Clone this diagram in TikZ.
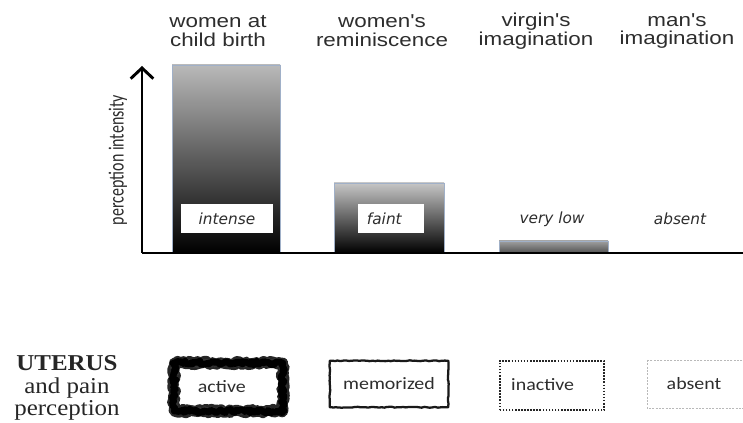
\documentclass[tikz,border=0pt]{standalone}
\usepackage{fontspec}
\setmainfont{Liberation Serif}
\newfontfamily\titlefont[FakeStretch=1.2]{Liberation Sans}
\newfontfamily\tagfont{DejaVu Sans}
\newfontfamily\boxfont[FakeStretch=1.15]{Carlito}
\newfontfamily\axisfont{Carlito}
\newfontfamily\uterfont[FakeStretch=1.1]{Liberation Serif}
\usetikzlibrary{arrows.meta,decorations.pathmorphing}

\definecolor{bordo}{RGB}{160,176,200}
\definecolor{testo}{RGB}{45,45,45}

\tikzset{
  toplabel/.style={font=\titlefont\fontsize{14}{14}\selectfont, align=center, text=testo},
  tagbox/.style={fill=white, inner sep=0pt, minimum height=21.75pt,
    font=\tagfont\itshape\fontsize{11.5}{12}\selectfont, text=testo},
  uterbox/.style={inner sep=0pt, font=\boxfont\fontsize{13}{14}\selectfont, text=testo},
  axis/.style={line width=2.2pt, black},
  rough/.style={decorate, line join=round, line cap=round,
    decoration={random steps, segment length=1.4pt, amplitude=1.4pt}}
}

\begin{document}
\begin{tikzpicture}[x=0.75pt, y=-0.75pt]
    \useasboundingbox (0,0) rectangle (743,423);
    \clip (0,0) rectangle (743,423);
    \pgfmathsetseed{7}

    % titoli delle colonne
    \node[toplabel] (t1) at (218,31) {women at\\child birth};
    \node[toplabel] (t2) at (382,31) {women's\\reminiscence};
    \node[toplabel] (t3) at (536,31) {virgin's\\imagination};
    \node[toplabel] (t4) at (677,31) {man's\\imagination};

    % barre con sfumatura
    \shade[top color=gray!55, bottom color=black] (172,65) rectangle (280,253);
    \draw[bordo, line width=0.6pt] (172,253) -- (172,65) -- (280,65) -- (280,253);
    \shade[top color=gray!45, bottom color=black] (334,183) rectangle (444,253);
    \draw[bordo, line width=0.6pt] (334,253) -- (334,183) -- (444,183) -- (444,253);
    \shade[top color=gray!75, bottom color=black!68] (499,241) rectangle (608,253);
    \draw[bordo, line width=0.6pt] (499,253) -- (499,241) -- (608,241) -- (608,253);

    % assi
    \coordinate (origin) at (142,253);
    \coordinate (ytop) at (142,66);
    \coordinate (xend) at (750,253);
    \draw[axis, -{Straight Barb[length=8pt, width=17pt]}] (origin) -- (ytop);
    \draw[axis] (origin) -- (xend);
    \node[rotate=90, font=\axisfont\fontsize{12}{12}\selectfont, text=testo] (ylab) at (118,160)
      {\scalebox{1}[1.35]{perception intensity}};

    % etichette delle barre
    \node[tagbox, minimum width=69pt] (b1) at (227,218.5) {intense};
    \node[tagbox, minimum width=50pt] (b2) at (391,218.5) {\hspace*{-10pt}faint};
    \node[tagbox, fill=none] (b3) at (552,219) {very low};
    \node[tagbox, fill=none] (b4) at (680,219) {absent};

    % utero e percezione del dolore
    \node[align=center, font=\uterfont\fontsize{17}{16.9}\selectfont, text=black!85] (ut) at (67,388)
      {\textbf{UTERUS}\\and pain\\perception};

    \node[uterbox, minimum width=81pt, minimum height=35.6pt] (u1) at (228.5,387) {\hspace*{-10pt}active};
    \draw[rough, line width=8pt, black!85] (u1.south west) rectangle (u1.north east);
    \foreach \s in {3,11,29}
      {\pgfmathsetseed{\s}
       \draw[rough, line width=1pt, black!80, decoration={amplitude=3.2pt, segment length=0.9pt}]
         (u1.south west) rectangle (u1.north east);}
    \pgfmathsetseed{21}
    \draw[rough, line width=5pt, black] (u1.south west) rectangle (u1.north east);

    \node[uterbox, minimum width=88.5pt, minimum height=34.5pt] (u2) at (389,384) {memorized};
    \draw[decorate, decoration={random steps, segment length=2pt, amplitude=0.35pt},
      line width=1.7pt, black!90, line join=round] (u2.south west) rectangle (u2.north east);

    \node[uterbox, minimum width=78pt, minimum height=36.75pt] (u3) at (552,385.5) {\hspace*{-14pt}\raisebox{1.5pt}{inactive}};
    \draw[line width=1.8pt, dash pattern=on 1.2pt off 1.1pt, black!85] (u3.south west) rectangle (u3.north east);

    \node[uterbox] (u4) at (694,384) {absent};
    \draw[line width=0.7pt, dash pattern=on 1.5pt off 1pt, gray!55] (647,360) rectangle (760,408);
\end{tikzpicture}
\end{document}
